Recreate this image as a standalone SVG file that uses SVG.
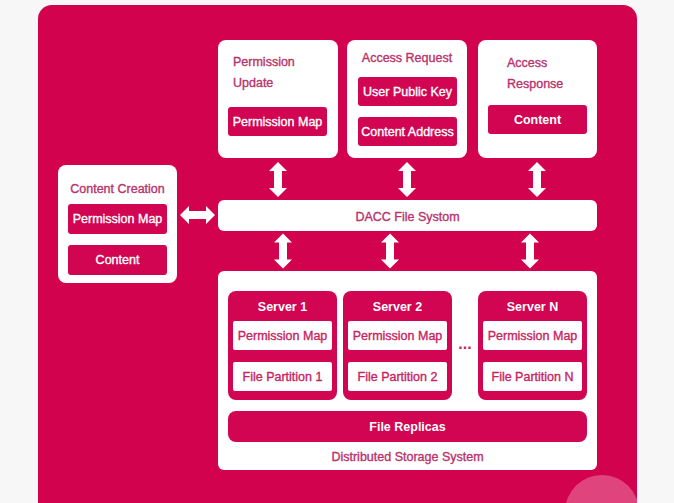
<svg xmlns="http://www.w3.org/2000/svg" width="674" height="503" viewBox="0 0 674 503">
<defs>
<style>
text{font-family:"Liberation Sans",Arial,sans-serif;font-size:12.5px;stroke-width:0.35px;}
.card{fill:#ffffff;}
.btn{fill:#D10551;}
.wbtn{fill:#ffffff;}
.t{fill:#B8326B;stroke:#B8326B;}
.tw{fill:#ffffff;stroke:#ffffff;}
.tm{fill:#C8235F;stroke:#C8235F;}
.b{font-weight:bold;stroke:none;}
.c{text-anchor:middle;}
.arrow{fill:#ffffff;}
</style>
<path id="varr" d="M0,-17.5 L9,-8.5 L4,-8.5 L4,8.5 L9,8.5 L0,17.5 L-9,8.5 L-4,8.5 L-4,-8.5 L-9,-8.5 Z"/>
<clipPath id="bgclip"><rect x="38" y="5" width="599" height="520" rx="14"/></clipPath>
</defs>
<rect x="0" y="0" width="674" height="503" fill="#f7f7f7"/>
<rect x="38" y="5" width="599" height="520" rx="14" fill="#D3024F"/>
<circle cx="602" cy="512" r="37" fill="#E0447D" clip-path="url(#bgclip)"/>

<g id="permission-update">
<rect class="card" x="218" y="40" width="120" height="118" rx="8"/>
<text class="t" x="233" y="66">Permission</text>
<text class="t" x="233" y="87">Update</text>
<rect class="btn" x="228" y="107" width="99" height="29" rx="3"/>
<text class="tw c" x="277.5" y="125.5">Permission Map</text>
</g>

<g id="access-request">
<rect class="card" x="347" y="40" width="120" height="118" rx="8"/>
<text class="t c" x="407" y="62">Access Request</text>
<rect class="btn" x="358" y="77" width="99" height="29" rx="3"/>
<text class="tw c" x="407.5" y="95.5">User Public Key</text>
<rect class="btn" x="358" y="117" width="99" height="29" rx="3"/>
<text class="tw c" x="407.5" y="135.5">Content Address</text>
</g>

<g id="access-response">
<rect class="card" x="478" y="40" width="119" height="118" rx="8"/>
<text class="t" x="507" y="67">Access</text>
<text class="t" x="507" y="88">Response</text>
<rect class="btn" x="488" y="105" width="99" height="29" rx="3"/>
<text class="tw c b" x="537.5" y="124">Content</text>
</g>

<g id="content-creation">
<rect class="card" x="58" y="165" width="119" height="118" rx="8"/>
<text class="t c" x="117.5" y="193">Content Creation</text>
<rect class="btn" x="68" y="204" width="99" height="30" rx="3"/>
<text class="tw c" x="117.5" y="223">Permission Map</text>
<rect class="btn" x="68" y="245" width="99" height="30" rx="3"/>
<text class="tw c" x="117.5" y="264">Content</text>
</g>

<g id="dacc-file-system">
<rect class="card" x="218" y="200" width="379" height="31" rx="6"/>
<text class="t c" x="407.5" y="221">DACC File Systom</text>
</g>

<g id="distributed-storage-system">
<rect class="card" x="218" y="271" width="379" height="199" rx="6"/>
<text class="t c" x="407.5" y="461">Distributed Storage System</text>
<rect class="btn" x="228" y="411" width="359" height="31" rx="8"/>
<text class="tw c b" x="407.5" y="430.5">File Replicas</text>
<text class="tm b c" x="465" y="349" style="font-size:16px">...</text>
</g>

<g id="server-1">
<rect class="btn" x="228" y="291" width="109" height="109" rx="8"/>
<text class="tw c b" x="282.5" y="311">Server 1</text>
<rect class="wbtn" x="233" y="321" width="99" height="29" rx="2"/>
<text class="tm c" x="282.5" y="339.5">Permission Map</text>
<rect class="wbtn" x="233" y="362" width="99" height="29" rx="2"/>
<text class="tm c" x="282.5" y="381">File Partition 1</text>
</g>

<g id="server-2">
<rect class="btn" x="343" y="291" width="109" height="109" rx="8"/>
<text class="tw c b" x="397.5" y="311">Server 2</text>
<rect class="wbtn" x="348" y="321" width="99" height="29" rx="2"/>
<text class="tm c" x="397.5" y="339.5">Permission Map</text>
<rect class="wbtn" x="348" y="362" width="99" height="29" rx="2"/>
<text class="tm c" x="397.5" y="381">File Partition 2</text>
</g>

<g id="server-n">
<rect class="btn" x="478" y="291" width="109" height="109" rx="8"/>
<text class="tw c b" x="532.5" y="311">Server N</text>
<rect class="wbtn" x="483" y="321" width="99" height="29" rx="2"/>
<text class="tm c" x="532.5" y="339.5">Permission Map</text>
<rect class="wbtn" x="483" y="362" width="99" height="29" rx="2"/>
<text class="tm c" x="532.5" y="381">File Partition N</text>
</g>

<g id="connectors" class="arrow">
<use href="#varr" transform="translate(278,179.5)"/>
<use href="#varr" transform="translate(407,179.5)"/>
<use href="#varr" transform="translate(537,179.5)"/>
<use href="#varr" transform="translate(283,251)"/>
<use href="#varr" transform="translate(390,251)"/>
<use href="#varr" transform="translate(530,251)"/>
<use href="#varr" transform="translate(197.5,215) rotate(90)"/>
</g>
</svg>
